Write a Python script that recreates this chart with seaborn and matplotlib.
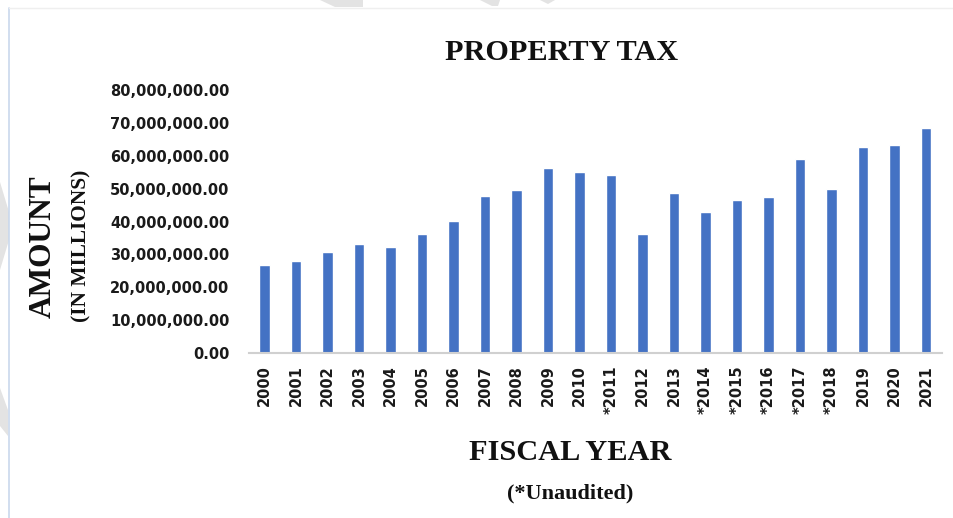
import matplotlib
matplotlib.use("Agg")
import matplotlib.pyplot as plt
from matplotlib.patches import Polygon
from matplotlib.lines import Line2D
from matplotlib.ticker import FuncFormatter
import seaborn as sns
import pandas as pd

# Fiscal years (asterisk marks unaudited years)
years = ["2000", "2001", "2002", "2003", "2004", "2005", "2006", "2007",
         "2008", "2009", "2010", "*2011", "2012", "2013", "*2014", "*2015",
         "*2016", "*2017", "*2018", "2019", "2020", "2021"]

# Property tax collected per fiscal year
amounts = [26.7e6, 28.0e6, 30.8e6, 33.3e6, 32.3e6, 36.3e6, 40.1e6, 47.8e6,
           49.5e6, 56.4e6, 55.0e6, 54.0e6, 36.2e6, 48.6e6, 42.8e6, 46.6e6,
           47.5e6, 59.1e6, 49.8e6, 62.8e6, 63.3e6, 68.4e6]

y_ticks = [0, 10e6, 20e6, 30e6, 40e6, 50e6, 60e6, 70e6, 80e6]

df = pd.DataFrame({"year": years, "amount": amounts})

sns.set_theme(style="white")
W, H = 954, 518
fig = plt.figure(figsize=(W / 100, H / 100), dpi=100)
fig.patch.set_facecolor("white")

# page decorations: faint grey fragments and the page border
grey = "#E3E3E3"
shapes = [
    [(320, 0), (363, 0), (363, 7), (335, 7)],
    [(480, 0), (500, 0), (498, 6), (492, 6)],
    [(540, 0), (555, 0), (548, 4)],
    [(0, 182), (9, 212), (9, 240), (0, 270)],
    [(0, 388), (8, 410), (8, 436), (0, 426)],
]
for pts in shapes:
    fig.patches.append(Polygon([(x / W, 1 - y / H) for x, y in pts],
                               closed=True, transform=fig.transFigure,
                               facecolor=grey, edgecolor="none", zorder=0))
fig.add_artist(Line2D([9 / W, 9 / W], [0, 1 - 8 / H], transform=fig.transFigure,
                      color="#C9D8EC", lw=1.2))
fig.add_artist(Line2D([9 / W, 1], [1 - 8 / H, 1 - 8 / H], transform=fig.transFigure,
                      color="#EFEFEF", lw=1.0))

left, right, y0, y80 = 248.75, 941.75, 353, 90
ax = fig.add_axes([left / W, 1 - y0 / H, (right - left) / W, (y0 - y80) / H])
ax.set_facecolor("none")

sns.barplot(data=df, x="year", y="amount", color="#4472C4", width=0.32,
            saturation=1, ax=ax)

ax.set_ylim(0, 80e6)
ax.set_xlim(-0.5, len(years) - 0.5)
ax.set_yticks(y_ticks)
ax.yaxis.set_major_formatter(FuncFormatter(lambda v, p: f"{v:,.2f}"))
ax.set_xlabel("")
ax.set_ylabel("")

for s in ["top", "right", "left"]:
    ax.spines[s].set_visible(False)
ax.spines["bottom"].set_color("#D0D0D0")
ax.spines["bottom"].set_linewidth(1.5)

ax.tick_params(axis="x", length=0, pad=9, labelsize=10.5, labelrotation=90)
ax.tick_params(axis="y", length=0, pad=14, labelsize=10.5)
for lab in ax.get_xticklabels() + ax.get_yticklabels():
    lab.set_fontfamily("DejaVu Sans")
    lab.set_fontweight("bold")
    lab.set_color("#1A1A1A")

serif = ["Liberation Serif", "DejaVu Serif"]
fig.text(562 / W, 1 - 52 / H, "PROPERTY TAX", family=serif, weight="bold",
         fontsize=21.8, ha="center", va="center", color="#111111")
fig.text(43 / W, 1 - 247 / H, "AMOUNT", family=serif, weight="bold",
         fontsize=22.6, rotation=90, ha="center", va="center", color="#111111")
fig.text(81 / W, 1 - 246 / H, "(IN MILLIONS)", family=serif, weight="bold",
         fontsize=15.4, rotation=90, ha="center", va="center", color="#111111")
fig.text(570 / W, 1 - 453 / H, "FISCAL YEAR", family=serif, weight="bold",
         fontsize=21.9, ha="center", va="center", color="#111111")
fig.text(570 / W, 1 - 493 / H, "(*Unaudited)", family=serif, weight="bold",
         fontsize=16, ha="center", va="center", color="#111111")

fig.savefig("out.png", dpi=100)
